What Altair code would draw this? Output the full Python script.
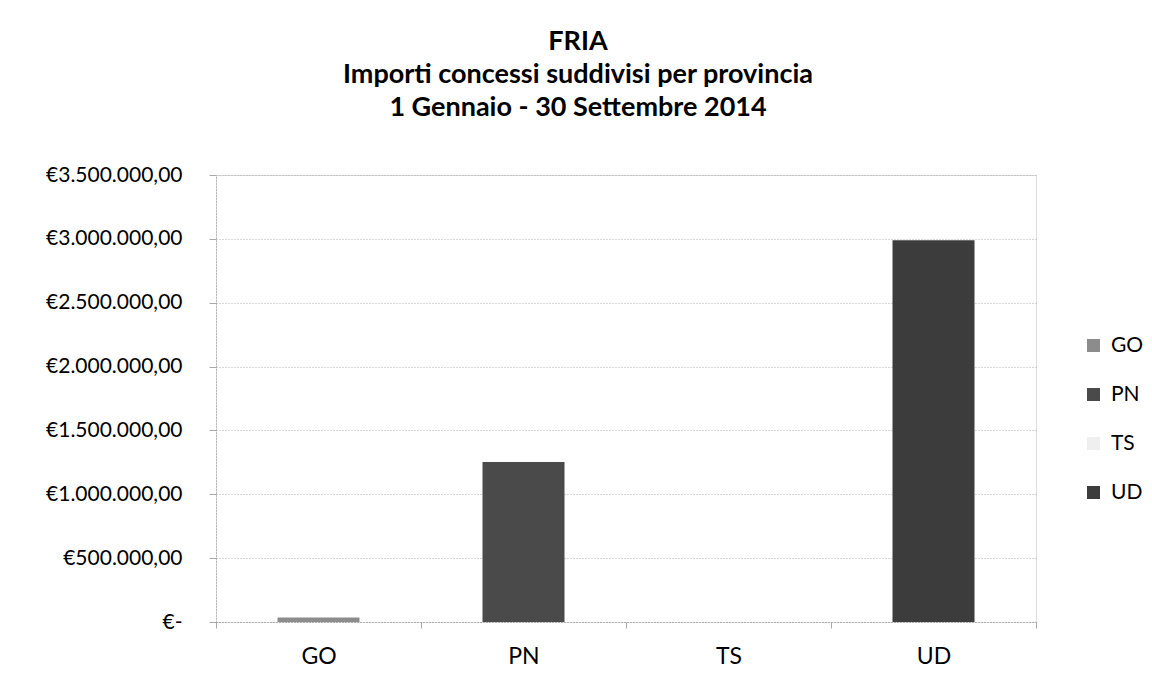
import altair as alt
import pandas as pd

provinces = ["GO", "PN", "TS", "UD"]
amounts = [35000, 1252000, 0, 2990000]
colors = ["#8c8c8c", "#4a4a4a", "#efefef", "#3c3c3c"]
y_ticks = [0, 500000, 1000000, 1500000, 2000000, 2500000, 3000000, 3500000]
title_lines = ["FRIA", "Importi concessi suddivisi per provincia", "1 Gennaio - 30 Settembre 2014"]

df = pd.DataFrame({"provincia": provinces, "importo": amounts})

FONT = "Lato"

label_expr = (
    "datum.value == 0 ? '€-\u00a0\u00a0\u00a0' : '€' + "
    "replace(replace(replace(format(datum.value, ',.2f'), regexp(',', 'g'), '#'), '.', ','), regexp('#', 'g'), '.')"
)

chart = (
    alt.Chart(df)
    .mark_bar(size=82)
    .encode(
        x=alt.X(
            "provincia:N",
            sort=provinces,
            scale=alt.Scale(paddingInner=0, paddingOuter=0),
            axis=alt.Axis(
                title=None,
                labelAngle=0,
                labelFontSize=23,
                labelFont=FONT,
                labelColor="#000000",
                labelPadding=17,
                tickSize=6,
                tickBand="extent",
                tickColor="#aaaaaa",
                domainColor="#999999",
                domainDash=[1, 2],
                grid=False,
            ),
        ),
        y=alt.Y(
            "importo:Q",
            scale=alt.Scale(domain=[0, 3500000], nice=False),
            axis=alt.Axis(
                title=None,
                values=y_ticks,
                labelExpr=label_expr,
                labelFontSize=21,
                labelFont=FONT,
                labelColor="#000000",
                labelPadding=27,
                tickSize=7,
                tickColor="#aaaaaa",
                domainColor="#999999",
                domainDash=[1, 2],
                grid=True,
                gridColor="#b0b0b0",
                gridDash=[1, 2],
                gridWidth=1,
            ),
        ),
        color=alt.Color(
            "provincia:N",
            sort=provinces,
            scale=alt.Scale(domain=provinces, range=colors),
            legend=alt.Legend(
                title=None,
                orient="none",
                legendX=867,
                legendY=160,
                symbolType="square",
                symbolSize=169,
                symbolStrokeWidth=0,
                labelFontSize=21,
                labelFont=FONT,
                labelColor="#000000",
                rowPadding=27,
                labelOffset=7,
            ),
        ),
    )
    .properties(
        width=820,
        height=447,
        padding={"left": 208, "top": 167, "right": 108, "bottom": 62},
        autosize=alt.AutoSizeParams(type="none"),
        title=alt.TitleParams(
            text=title_lines,
            anchor="middle",
            frame="group",
            dx=-48,
            fontSize=27,
            font=FONT,
            fontWeight="bold",
            color="#000000",
            lineHeight=33,
            offset=42,
        ),
    )
    .configure_view(stroke=None)
    .configure(background="#ffffff")
)

chart.save("out.html", embed_options={"renderer": "svg", "actions": False})
